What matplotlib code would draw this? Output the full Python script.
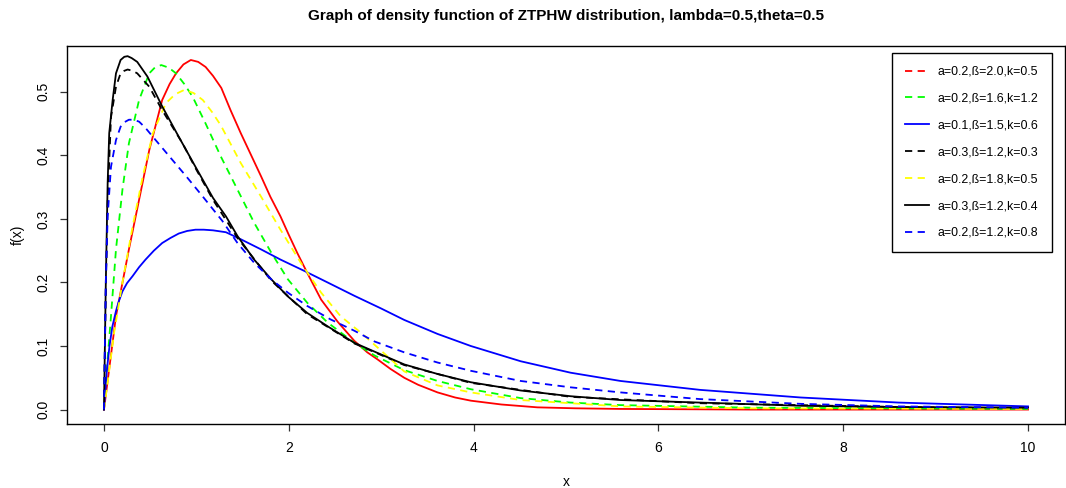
import matplotlib
matplotlib.use("Agg")
import matplotlib.pyplot as plt
from matplotlib.lines import Line2D

plt.rcParams['font.family'] = ['Liberation Sans', 'DejaVu Sans']

title = "Graph of density function of ZTPHW distribution, lambda=0.5,theta=0.5"

labels = ["a=0.2,ß=2.0,k=0.5", "a=0.2,ß=1.6,k=1.2", "a=0.1,ß=1.5,k=0.6",
          "a=0.3,ß=1.2,k=0.3", "a=0.2,ß=1.8,k=0.5", "a=0.3,ß=1.2,k=0.4",
          "a=0.2,ß=1.2,k=0.8"]
colors = ["red", "#00ff00", "blue", "black", "#ffff00", "black", "blue"]
legend_styles = ["dashed", "dashed", "solid", "dashed", "dashed", "solid", "dashed"]
plot_styles = ["solid", "dashed", "solid", "dashed", "dashed", "solid", "dashed"]

# series
red_x = [0.0, 0.13, 0.27, 0.38, 0.49, 0.63, 0.71, 0.78, 0.86, 0.94, 1.02, 1.10, 1.18, 1.27, 1.37,
         1.48, 1.59, 1.70, 1.80, 1.91, 2.00, 2.09, 2.20, 2.35, 2.53, 2.71, 2.85, 2.96, 3.10, 3.25,
         3.40, 3.61, 3.80, 3.97, 4.30, 4.69, 5.10, 5.59, 7.0, 10.0]
red_y = [0.0, 0.147, 0.252, 0.33, 0.408, 0.487, 0.512, 0.529, 0.543, 0.55, 0.547, 0.539, 0.525, 0.506, 0.471,
         0.435, 0.401, 0.367, 0.335, 0.304, 0.275, 0.247, 0.215, 0.173, 0.138, 0.108, 0.090, 0.079, 0.064, 0.050,
         0.039, 0.027, 0.019, 0.014, 0.008, 0.0035, 0.002, 0.001, 0.0, 0.0]

green_x = [0.0, 0.02, 0.076, 0.13, 0.20, 0.27, 0.38, 0.49, 0.55, 0.62, 0.70, 0.78, 0.87, 0.96, 1.10,
           1.265, 1.445, 1.625, 1.81, 1.99, 2.20, 2.42, 2.71, 2.93, 3.25, 3.61, 3.97, 4.51, 5.05, 5.59,
           7.0, 10.0]
green_y = [0.0, 0.043, 0.147, 0.252, 0.346, 0.419, 0.487, 0.529, 0.538, 0.542, 0.538, 0.529, 0.512, 0.492, 0.450,
           0.398, 0.346, 0.294, 0.247, 0.205, 0.168, 0.137, 0.105, 0.085, 0.062, 0.045, 0.032, 0.018, 0.011, 0.007,
           0.003, 0.001]

blue_x = [0.0, 0.03, 0.06, 0.09, 0.13, 0.16, 0.20, 0.25, 0.31, 0.38, 0.45, 0.54, 0.63, 0.72, 0.81,
          0.90, 0.99, 1.08, 1.18, 1.32, 1.48, 1.70, 1.91, 2.17, 2.42, 2.71, 3.0, 3.25, 3.61, 3.97,
          4.51, 5.05, 5.59, 6.45, 7.54, 8.6, 10.0]
blue_y = [0.0, 0.06, 0.10, 0.13, 0.155, 0.17, 0.186, 0.199, 0.21, 0.224, 0.236, 0.250, 0.262, 0.270, 0.277,
          0.281, 0.283, 0.283, 0.282, 0.279, 0.268, 0.252, 0.236, 0.218, 0.200, 0.179, 0.159, 0.141, 0.119, 0.100,
          0.076, 0.058, 0.045, 0.031, 0.019, 0.011, 0.005]

black_dash_x = [0.0, 0.02, 0.04, 0.076, 0.13, 0.18, 0.22, 0.256, 0.31, 0.36, 0.49, 0.63, 0.85, 0.99,
                1.18, 1.445, 1.81, 2.20, 2.71, 3.25, 3.97, 5.05, 6.45, 8.6, 10.0]
black_dash_y = [0.0, 0.19, 0.33, 0.46, 0.508, 0.529, 0.533, 0.535, 0.533, 0.529, 0.508, 0.471, 0.419, 0.380,
                0.330, 0.270, 0.203, 0.150, 0.104, 0.070, 0.042, 0.020, 0.010, 0.004, 0.002]

yellow_x = [0.0, 0.04, 0.11, 0.20, 0.31, 0.42, 0.53, 0.67, 0.77, 0.87, 0.97, 1.07, 1.17, 1.265,
            1.48, 1.70, 1.91, 2.13, 2.35, 2.56, 2.78, 2.92, 3.25, 3.61, 3.97, 4.51, 5.59, 7.0, 10.0]
yellow_y = [0.0, 0.043, 0.121, 0.20, 0.288, 0.367, 0.435, 0.482, 0.496, 0.503, 0.498, 0.487, 0.468, 0.447,
            0.388, 0.335, 0.283, 0.231, 0.184, 0.147, 0.121, 0.103, 0.060, 0.038, 0.027, 0.015, 0.005, 0.002, 0.001]

black_x = [0.0, 0.02, 0.04, 0.057, 0.094, 0.13, 0.18, 0.22, 0.256, 0.30, 0.36, 0.47, 0.63, 0.81, 0.99,
           1.18, 1.32, 1.445, 1.625, 1.81, 1.99, 2.20, 2.42, 2.71, 2.93, 3.25, 3.61, 3.97, 4.51, 5.05,
           5.59, 6.45, 7.54, 8.6, 10.0]
black_y = [0.0, 0.20, 0.357, 0.435, 0.487, 0.529, 0.55, 0.555, 0.556, 0.553, 0.547, 0.524, 0.477, 0.429, 0.382,
           0.333, 0.304, 0.273, 0.236, 0.205, 0.178, 0.152, 0.131, 0.105, 0.091, 0.071, 0.056, 0.043, 0.030, 0.021,
           0.015, 0.011, 0.006, 0.004, 0.003]

blue_dash_x = [0.0, 0.01, 0.02, 0.04, 0.076, 0.13, 0.18, 0.22, 0.27, 0.32, 0.38, 0.45, 0.53, 0.71, 0.89,
               1.07, 1.28, 1.445, 1.625, 1.81, 1.99, 2.20, 2.45, 2.71, 2.93, 3.25, 3.61, 3.97, 4.51, 5.05,
               5.59, 6.45, 7.54, 8.6, 10.0]
blue_dash_y = [0.0, 0.10, 0.20, 0.304, 0.382, 0.424, 0.445, 0.452, 0.456, 0.456, 0.453, 0.443, 0.429, 0.398, 0.367,
               0.335, 0.297, 0.262, 0.231, 0.205, 0.184, 0.163, 0.142, 0.124, 0.107, 0.090, 0.074, 0.061, 0.045, 0.035,
               0.027, 0.0165, 0.009, 0.005, 0.003]

series = [(red_x, red_y), (green_x, green_y), (blue_x, blue_y), (black_dash_x, black_dash_y),
          (yellow_x, yellow_y), (black_x, black_y), (blue_dash_x, blue_dash_y)]

x_ticks = [0, 2, 4, 6, 8, 10]
y_ticks = [0.0, 0.1, 0.2, 0.3, 0.4, 0.5]

W, H = 1066, 488
fig = plt.figure(figsize=(W / 100, H / 100), dpi=100)
ax = fig.add_axes([67 / W, 1 - 424 / H, (1065 - 67) / W, (424 - 46) / H])

LW = 1.3
DASH = (4, 3)
for (xs, ys), c, st in zip(series, colors, plot_styles):
    ln, = ax.plot(xs, ys, color=c, lw=LW, solid_joinstyle='round')
    if st == "dashed":
        ln.set_dashes(DASH)

ax.set_xlim(-0.4, 10.4)
ax.set_ylim(-0.0227, 0.572)
ax.set_xticks(x_ticks)
ax.set_xticklabels([str(v) for v in x_ticks])
ax.set_yticks(y_ticks)
ax.set_yticklabels(["%.1f" % v for v in y_ticks], rotation=90, va='center')
ax.tick_params(direction='out', length=5, width=0.9, labelsize=10, pad=7, color='#333333')
for s in ax.spines.values():
    s.set_linewidth(1.0)

ax.set_xlabel("x", fontsize=10)
ax.xaxis.set_label_coords(0.5, -0.135)
ax.set_ylabel("f(x)", fontsize=10)
ax.yaxis.set_label_coords(-0.042, 0.5)
ax.set_title(title, fontsize=11, fontweight='bold', pad=19)

handles = []
for c, st in zip(colors, legend_styles):
    h = Line2D([0], [0], color=c, lw=LW)
    if st == "dashed":
        h.set_dashes(DASH)
    handles.append(h)
leg = ax.legend(handles, labels, loc='upper left', bbox_to_anchor=(0.8267, 0.9815),
                fontsize=8.9, frameon=True, fancybox=False, edgecolor='black',
                framealpha=1, borderpad=1.05, labelspacing=1.2, handlelength=1.9,
                handletextpad=0.75, borderaxespad=0)
leg.get_frame().set_linewidth(1.0)

fig.savefig("out.png", dpi=100)
